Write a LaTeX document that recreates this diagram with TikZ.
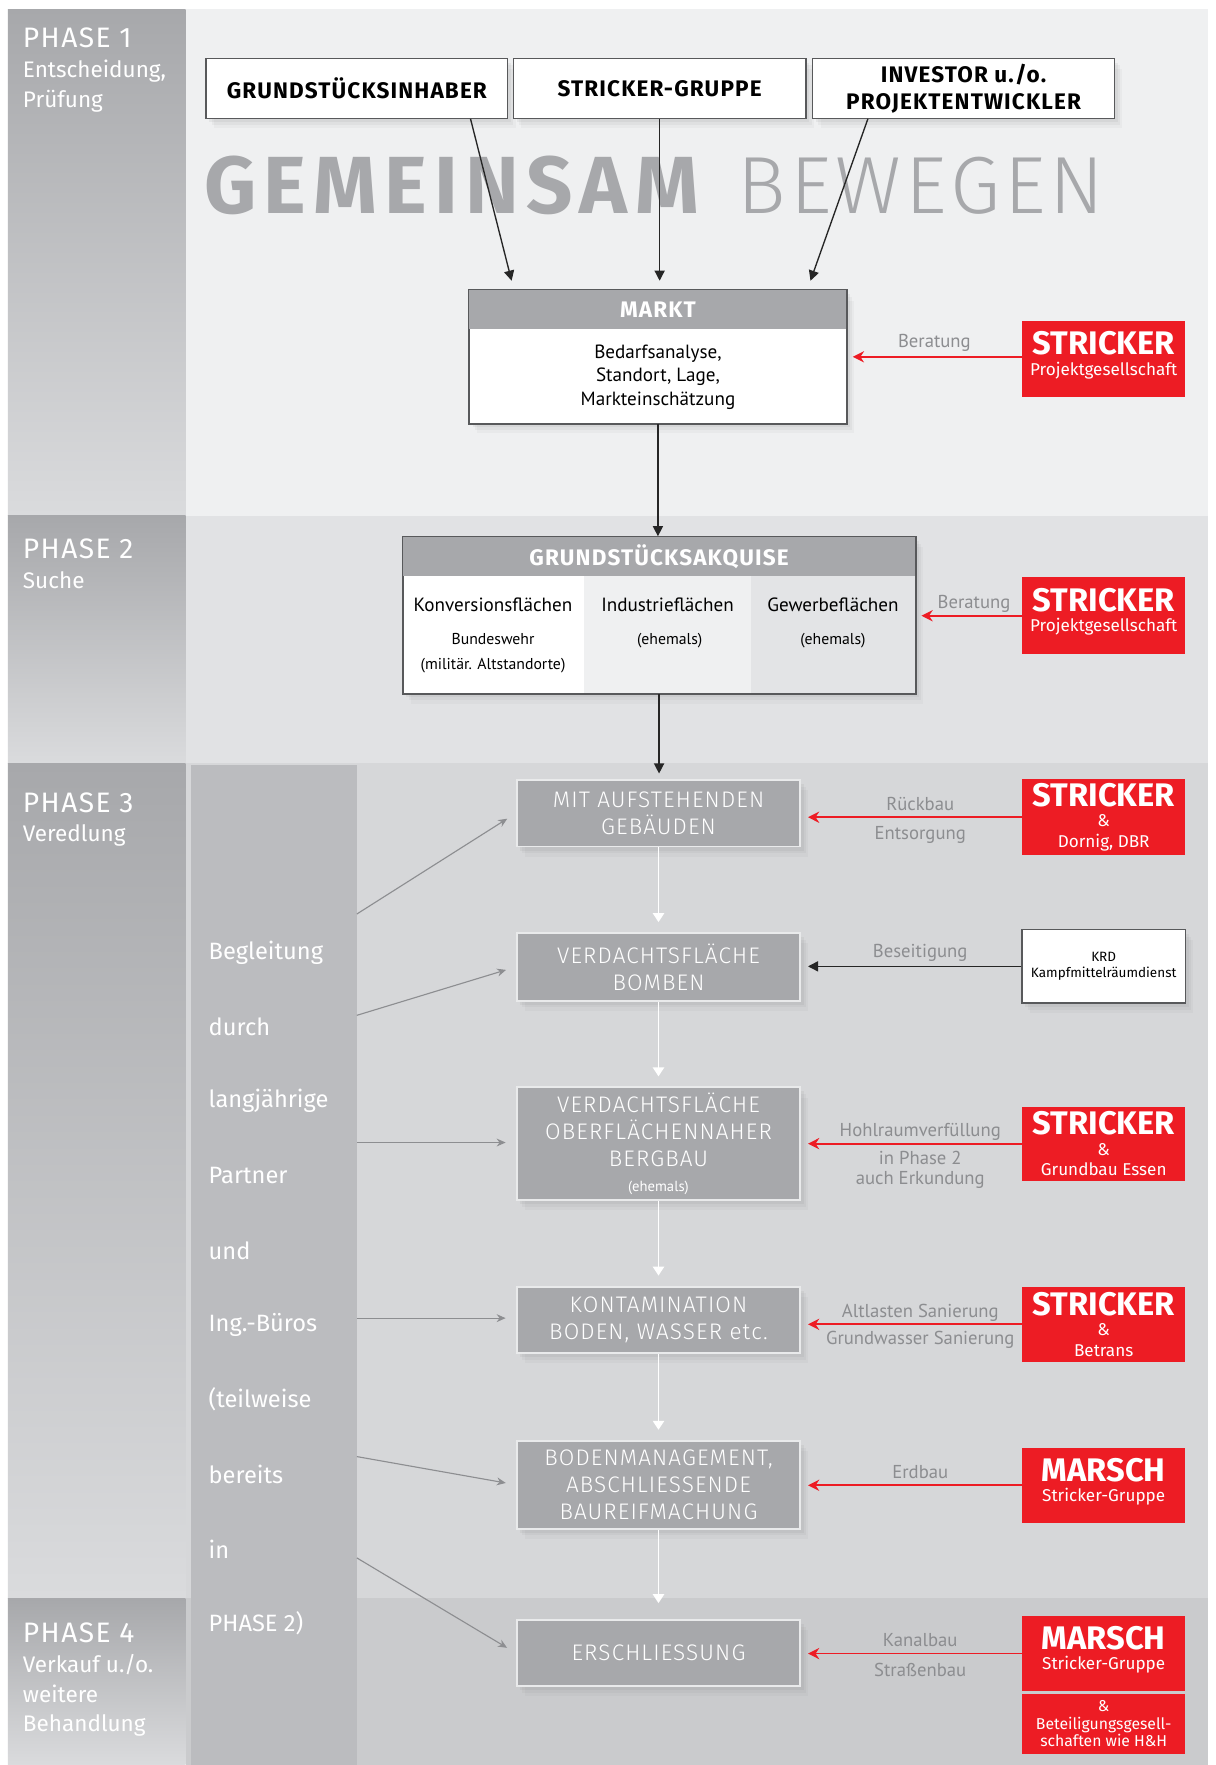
\documentclass[tikz,border=0pt]{standalone}
\usepackage{fontspec}
\setmainfont{Fira Sans}
\newfontfamily\widefont[LetterSpace=5]{Fira Sans}
\newfontfamily\lightwide[LetterSpace=5]{Fira Sans Light}
\newfontfamily\notefont{PT Sans}
\usetikzlibrary{arrows.meta,shadows}

\definecolor{colgray}{HTML}{A7A8AB}
\definecolor{colfade}{HTML}{DADBDD}
\definecolor{bgone}{HTML}{EFF0F1}
\definecolor{bgtwo}{HTML}{E1E2E4}
\definecolor{bgthree}{HTML}{D6D7D9}
\definecolor{bgfour}{HTML}{CACBCD}
\definecolor{colthree}{HTML}{E3E4E6}
\definecolor{innergray}{HTML}{BBBCBF}
\definecolor{strred}{HTML}{ED1C24}
\definecolor{lblgray}{HTML}{8C8D90}
\definecolor{feedgray}{HTML}{8D8E91}
\definecolor{edge}{HTML}{58595B}
\definecolor{boxrim}{HTML}{E9EAEB}

\newcommand\bigname[1]{{\fontsize{14.5}{15}\selectfont\bfseries #1}}

\begin{document}
\begin{tikzpicture}[x=0.5pt,y=-0.5pt,
  boxshadow/.style={drop shadow={shadow xshift=3.5pt,shadow yshift=-4.5pt,opacity=.06},
    drop shadow={shadow xshift=2.5pt,shadow yshift=-3pt,opacity=.08},
    drop shadow={shadow xshift=1.5pt,shadow yshift=-1.8pt,opacity=.1}},
  phase/.style={anchor=north west,inner sep=0pt,text=white,align=left,font=\fontsize{10}{13.2}\selectfont},
  topbox/.style={draw=edge,fill=white,line width=0.6pt,minimum width=134pt,minimum height=26.5pt,inner sep=0pt,align=center,font=\widefont\bfseries\fontsize{10}{12}\selectfont,boxshadow},
  panel/.style={draw=edge,fill=white,line width=0.6pt,inner sep=0pt,boxshadow},
  headtxt/.style={text=white,font=\widefont\bfseries\fontsize{10}{11}\selectfont},
  bodytxt/.style={align=center,font=\notefont\fontsize{8.5}{10.5}\selectfont},
  colsub/.style={align=center,font=\notefont\fontsize{7}{11}\selectfont},
  stagebox/.style={fill=colgray,draw=boxrim,line width=0.8pt,minimum width=126pt,minimum height=29.5pt,inner sep=0pt,align=center,text=white,font=\lightwide\fontsize{10}{12}\selectfont,boxshadow},
  redbox/.style={fill=strred,minimum width=72.5pt,minimum height=34pt,inner sep=0pt,align=center,text=white,font=\fontsize{7.6}{9}\selectfont},
  note/.style={text=lblgray,inner sep=0pt,font=\notefont\fontsize{8.3}{9}\selectfont,align=center},
  flow/.style={draw=black!85,line width=0.6pt,-{Triangle[length=4.5pt,width=4.5pt]}},
  redarrow/.style={draw=strred,line width=0.8pt,-{Stealth[length=5pt,width=5pt]},shorten >=2.5pt},
  down/.style={draw=white,line width=0.8pt,-{Triangle[length=4pt,width=5pt]},shorten >=4.5pt},
  feed/.style={draw=feedgray,line width=0.5pt,-{Stealth[length=4pt,width=3.5pt]},shorten >=4.5pt},
  partner/.style={anchor=west,inner sep=0pt,text=white,font=\fontsize{10.5}{12}\selectfont}
]
\useasboundingbox (0,0) rectangle (1080,1568);
\fill[white] (0,0) rectangle (1080,1568);

% Phase bands
\fill[bgone] (165,8) rectangle (1073,458);
\fill[bgtwo] (165,458) rectangle (1073,678);
\fill[bgthree] (165,678) rectangle (1073,1420);
\fill[bgfour] (165,1420) rectangle (1073,1568);
\shade[top color=colgray,middle color=colgray!85!colfade,bottom color=colfade] (7,8) rectangle (165,458);
\shade[top color=colgray,middle color=colgray!80!colfade,bottom color=colfade] (7,458) rectangle (165,678);
\shade[top color=colgray,middle color=colgray!70!colfade,bottom color=colfade] (7,678) rectangle (165,1420);
\shade[top color=colgray,bottom color=colfade] (7,1420) rectangle (165,1568);

\node[phase] (ph1) at (20,24.5) {{\widefont\fontsize{12.5}{13}\selectfont PHASE 1}\\Entscheidung,\\Prüfung};
\node[phase] (ph2) at (20,478.5) {{\widefont\fontsize{12.5}{13}\selectfont PHASE 2}\\Suche};
\node[phase] (ph3) at (20,703.5) {{\widefont\fontsize{12.5}{13}\selectfont PHASE 3}\\Veredlung};
\node[phase] (ph4) at (20,1441.5) {{\widefont\fontsize{12.5}{13}\selectfont PHASE 4}\\Verkauf u./o.\\weitere\\Behandlung};

% Partner column
\node[fill=innergray,minimum width=73.5pt,minimum height=444pt,inner sep=0pt] (begleit) at (243.5,1124) {};
\node[partner] (w1) at (185,846) {Begleitung};
\node[partner] (w2) at (185,912) {durch};
\node[partner] (w3) at (185,978) {langjährige};
\node[partner] (w4) at (185,1044) {Partner};
\node[partner] (w5) at (185,1111) {und};
\node[partner] (w6) at (185,1177) {Ing.-Büros};
\node[partner] (w7) at (185,1243) {(teilweise};
\node[partner] (w8) at (185,1310) {bereits};
\node[partner] (w9) at (185,1376) {in};
\node[partner] (w10) at (185,1442) {PHASE 2)};

% Title
\node[anchor=base west,inner sep=0pt,text=colgray,font=\widefont\addfontfeature{LetterSpace=9}\bfseries\fontsize{36}{40}\selectfont] (gem) at (181,190) {GEMEINSAM};
\node[anchor=base west,inner sep=0pt,text=colgray,font=\lightwide\fontsize{36}{40}\selectfont] (bew) at (655,190) {BEWEGEN};

% Partners on top
\node[topbox] (inhaber) at (317,78.5) {GRUNDSTÜCKSINHABER};
\node[topbox,minimum width=130pt] (gruppe) at (586,78.5) {STRICKER-GRUPPE};
\node[topbox] (investor) at (856,78.5) {INVESTOR u./o.\\PROJEKTENTWICKLER};

% Markt
\node[panel,minimum width=167.5pt,minimum height=59pt] (markt) at (584.5,317) {};
\fill[colgray] (markt.north west) rectangle ([yshift=-17.5pt]markt.north east);
\draw[edge,line width=0.6pt] (markt.north west) rectangle (markt.south east);
\node[headtxt] (markthead) at (584.5,275.5) {MARKT};
\node[bodytxt] (marktbody) at (584.5,335) {Bedarfsanalyse,\\Standort, Lage,\\Markteinschätzung};

% Grundstuecksakquise
\node[panel,minimum width=227.5pt,minimum height=69.5pt] (akq) at (585.5,546.5) {};
\fill[bgone] (519,512) rectangle (667,616);
\fill[colthree] (667,512) rectangle (813,616);
\fill[colgray] (akq.north west) rectangle ([yshift=-17.5pt]akq.north east);
\draw[edge,line width=0.6pt] (akq.north west) rectangle (akq.south east);
\node[headtxt] (akqhead) at (585.5,494.5) {GRUNDSTÜCKSAKQUISE};
\node[bodytxt] (konv) at (438,537) {Konversionsflächen};
\node[colsub] (konvsub) at (438,580) {Bundeswehr\\(militär. Altstandorte)};
\node[bodytxt] (indu) at (593,537) {Industrieflächen};
\node[colsub] (indusub) at (595,569) {(ehemals)};
\node[bodytxt] (gewe) at (740,537) {Gewerbeflächen};
\node[colsub] (gewesub) at (740,569) {(ehemals)};

% Veredlung steps
\node[stagebox] (b1) at (585,722.5) {MIT AUFSTEHENDEN\\GEBÄUDEN};
\node[stagebox,minimum height=30pt] (b2) at (585,859) {VERDACHTSFLÄCHE\\BOMBEN};
\node[stagebox,minimum height=50pt] (b3) at (585,1016) {VERDACHTSFLÄCHE\\OBERFLÄCHENNAHER\\BERGBAU\\[-1pt]{\notefont\fontsize{6.5}{8}\selectfont (ehemals)}};
\node[stagebox] (b4) at (585,1172.5) {KONTAMINATION\\BODEN, WASSER etc.};
\node[stagebox,minimum height=39pt] (b5) at (585,1319) {BODENMANAGEMENT,\\ABSCHLIESSENDE\\BAUREIFMACHUNG};
\node[stagebox] (b6) at (585,1468.5) {ERSCHLIESSUNG};

% Firms
\node[redbox] (r1) at (980.5,319) {\bigname{STRICKER}\\Projektgesellschaft\\[-4pt]\mbox{}};
\node[redbox] (r2) at (980.5,547) {\bigname{STRICKER}\\Projektgesellschaft\\[-4pt]\mbox{}};
\node[redbox] (r3) at (980.5,726) {\bigname{STRICKER}\\\&\\Dornig, DBR};
\node[panel,minimum width=72.5pt,minimum height=32.5pt,align=center,font=\fontsize{6}{7.2}\selectfont] (krd) at (980.5,858.5) {KRD\\Kampfmittelräumdienst};
\node[redbox,minimum height=33pt] (r4) at (980.5,1016) {\bigname{STRICKER}\\\&\\Grundbau Essen};
\node[redbox,minimum height=33.5pt] (r5) at (980.5,1176.5) {\bigname{STRICKER}\\\&\\Betrans};
\node[redbox,minimum height=33.5pt] (r6) at (980.5,1319.5) {\bigname{MARSCH}\\Stricker-Gruppe\\[-4pt]\mbox{}};
\node[redbox,minimum height=33pt] (r7) at (980.5,1469) {\bigname{MARSCH}\\Stricker-Gruppe\\[-4pt]\mbox{}};
\node[redbox,minimum height=26.5pt,font=\fontsize{7}{7.8}\selectfont] (r8) at (980.5,1531.5) {\&\\Beteiligungsgesell-\\schaften wie H\&H};

% Arrows
\draw[flow] ([xshift=50.5pt]inhaber.south) -- ([xshift=-65pt,yshift=4pt]markt.north);
\draw[flow,shorten >=4pt] (gruppe.south) -- (gruppe.south |- markt.north);
\draw[flow] ([xshift=-42.5pt]investor.south) -- ([xshift=67.75pt,yshift=4pt]markt.north);
\draw[flow] (markt.south) -- (markt.south |- akq.north);
\draw[flow,shorten >=2.5pt] (akq.south) -- (akq.south |- b1.north);

\foreach \a/\b in {b1/b2,b2/b3,b3/b4,b4/b5} \draw[down] (\a.south) -- (\b.north);
\draw[down,shorten >=7pt] (b5.south) -- (b6.north);

\draw[redarrow] ([yshift=1pt]r1.west) -- ([yshift=1pt]r1.west -| markt.east) node[note,midway,above=2pt] {Beratung};
\draw[redarrow] (r2.west) -- (r2.west -| akq.east) node[note,pos=.45,above=1pt] {Beratung};
\draw[redarrow,shorten >=3pt] (r3.west) -- (r3.west -| b1.east)
  node[note,pos=.46,above=2.5pt] {Rückbau} node[note,pos=.46,below=3.5pt] {Entsorgung};
\draw[flow,shorten >=3pt] (krd.west) -- (krd.west -| b2.east) node[note,pos=.46,above=2pt] {Beseitigung};
\draw[redarrow,shorten >=3pt] (r4.west) -- (r4.west -| b3.east)
  node[note,pos=.46,above=1pt] {Hohlraumverfüllung} node[note,pos=.46,below=3pt] {in Phase 2\\auch Erkundung};
\draw[redarrow,shorten >=3pt] (r5.west) -- (r5.west -| b4.east)
  node[note,pos=.46,above=1pt] {Altlasten Sanierung} node[note,pos=.46,below=2.5pt] {Grundwasser Sanierung};
\draw[redarrow,shorten >=3pt] (r6.west) -- (r6.west -| b5.east) node[note,pos=.46,above=2.5pt] {Erdbau};
\draw[redarrow,shorten >=3pt] (r7.west) -- (r7.west -| b6.east)
  node[note,pos=.46,above=2.5pt] {Kanalbau} node[note,pos=.46,below=4pt] {Straßenbau};

% Partner links
\foreach \yy [count=\i] in {812,902,1015,1171,1294,1384} \coordinate (p\i) at (317,\yy);
\foreach \i in {1,2,5,6} \draw[feed] (p\i) -- (b\i.west);
\foreach \i in {3,4} \draw[feed] (p\i) -- (p\i -| b\i.west);
\end{tikzpicture}
\end{document}
